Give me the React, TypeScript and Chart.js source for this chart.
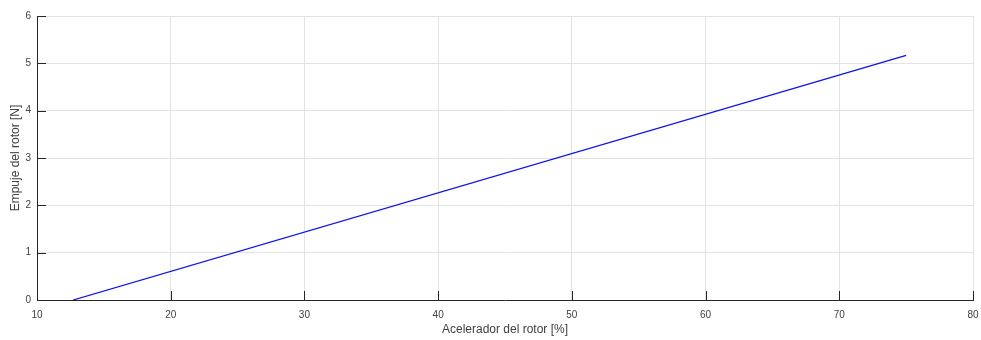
import React, { useEffect, useRef } from "react";
import { Chart, registerables } from "chart.js";

Chart.register(...registerables);

const throttleX: number[] = [12.7, 75];
const thrustY: number[] = [0, 5.17];
const xTickRange: number[] = [10, 80];
const yTickRange: number[] = [0, 6];
const xLabel = "Acelerador del rotor [%]";
const yLabel = "Empuje del rotor [N]";

const AXIS_COLOR = "#262626";
const TEXT_COLOR = "#404040";
const GRID_COLOR = "#e3e3e3";

const innerTicks = {
  id: "innerTicks",
  afterDraw(chart: any) {
    const { ctx, chartArea, scales } = chart;
    const xs = scales.x;
    const ys = scales.y;
    ctx.save();
    ctx.strokeStyle = AXIS_COLOR;
    ctx.lineWidth = 1;
    ctx.beginPath();
    xs.ticks.forEach((t: any) => {
      const px = Math.round(xs.getPixelForValue(t.value)) + 0.5;
      ctx.moveTo(px, chartArea.bottom);
      ctx.lineTo(px, chartArea.bottom - 9);
    });
    ys.ticks.forEach((t: any) => {
      const py = Math.round(ys.getPixelForValue(t.value)) + 0.5;
      ctx.moveTo(chartArea.left, py);
      ctx.lineTo(chartArea.left + 9, py);
    });
    ctx.stroke();
    ctx.restore();
  },
};

export default function App() {
  const ref = useRef<HTMLCanvasElement | null>(null);
  useEffect(() => {
    document.body.style.margin = "0";
    if (!ref.current) return;
    Chart.defaults.font.family = "'Liberation Sans', Arial, Helvetica, sans-serif";
    const chart = new Chart(ref.current, {
      type: "line",
      data: {
        datasets: [
          {
            data: throttleX.map((x, i) => ({ x, y: thrustY[i] })),
            borderColor: "#1010f0",
            borderWidth: 1.3,
            pointRadius: 0,
            fill: false,
            tension: 0,
          },
        ],
      },
      options: {
        animation: false,
        responsive: false,
        layout: { padding: { top: 16, right: 8, left: 0, bottom: 0 } },
        plugins: { legend: { display: false }, tooltip: { enabled: false } },
        scales: {
          x: {
            type: "linear",
            min: xTickRange[0],
            max: xTickRange[1],
            afterFit: (s: any) => {
              s.height = 40;
              s.paddingLeft = 0;
              s.paddingRight = 0;
            },
            ticks: {
              stepSize: 10,
              color: TEXT_COLOR,
              font: { size: 10 },
              padding: 9,
              maxRotation: 0,
            },
            grid: { color: GRID_COLOR, drawTicks: false, lineWidth: 1 },
            border: { color: AXIS_COLOR, width: 1 },
            title: {
              display: true,
              text: xLabel,
              color: TEXT_COLOR,
              font: { size: 12 },
              padding: { top: 0, bottom: 3 },
            },
          },
          y: {
            type: "linear",
            min: yTickRange[0],
            max: yTickRange[1],
            afterFit: (s: any) => {
              s.width = 37;
              s.paddingTop = 0;
              s.paddingBottom = 0;
            },
            ticks: {
              stepSize: 1,
              color: TEXT_COLOR,
              font: { size: 10 },
              padding: 6,
            },
            grid: { color: GRID_COLOR, drawTicks: false, lineWidth: 1 },
            border: { color: AXIS_COLOR, width: 1 },
            title: {
              display: true,
              text: yLabel,
              color: TEXT_COLOR,
              font: { size: 12 },
              padding: { top: 8, bottom: 0 },
            },
          },
        },
      },
      plugins: [innerTicks],
    });
    return () => chart.destroy();
  }, []);
  return <canvas ref={ref} width={981} height={340} style={{ display: "block" }} />;
}
